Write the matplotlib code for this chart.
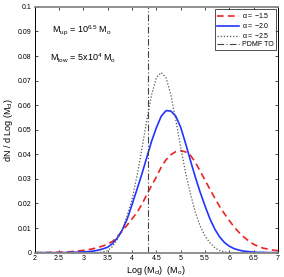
import matplotlib
matplotlib.use('Agg')
import matplotlib.pyplot as plt

plt.rcParams['font.family'] = ['Liberation Sans', 'DejaVu Sans']
plt.rcParams['mathtext.fontset'] = 'custom'
plt.rcParams['mathtext.rm'] = 'Liberation Sans'
plt.rcParams['mathtext.it'] = 'Liberation Sans'

# log cluster mass grid
log_m = [2.0, 2.1, 2.2, 2.3, 2.4, 2.5, 2.6, 2.7, 2.8, 2.9,
         3.0, 3.1, 3.2, 3.3, 3.4, 3.5, 3.6, 3.7, 3.8, 3.9,
         4.0, 4.1, 4.2, 4.3, 4.4, 4.5, 4.6, 4.7, 4.8, 4.9,
         5.0, 5.1, 5.2, 5.3, 5.4, 5.5, 5.6, 5.7, 5.8, 5.9,
         6.0, 6.1, 6.2, 6.3, 6.4, 6.5, 6.6, 6.7, 6.8, 6.9, 7.0]

# alpha = -1.5
dn_15 = [0.0000, 0.0000, 0.0000, 0.0001, 0.0001, 0.0002, 0.0002, 0.0003, 0.0005, 0.0007,
         0.0009, 0.0012, 0.0016, 0.0021, 0.0027, 0.0034, 0.0046, 0.0064, 0.0088, 0.0112,
         0.0137, 0.0163, 0.0195, 0.0235, 0.0272, 0.0308, 0.0348, 0.0378, 0.0399, 0.0411,
         0.0415, 0.0410, 0.0396, 0.0368, 0.0332, 0.0295, 0.0258, 0.0222, 0.0188, 0.0158,
         0.0130, 0.0104, 0.0082, 0.0063, 0.0047, 0.0034, 0.0025, 0.0018, 0.0014, 0.0010, 0.0008]

# alpha = -2.0
dn_20 = [0.0000, 0.0000, 0.0000, 0.0000, 0.0000, 0.0000, 0.0000, 0.0001, 0.0001, 0.0002,
         0.0003, 0.0004, 0.0006, 0.0010, 0.0015, 0.0022, 0.0037, 0.0060, 0.0092, 0.0136,
         0.0195, 0.0256, 0.0318, 0.0385, 0.0452, 0.0508, 0.0555, 0.0578, 0.0576, 0.0555,
         0.0510, 0.0445, 0.0375, 0.0308, 0.0246, 0.0190, 0.0138, 0.0096, 0.0064, 0.0041,
         0.0026, 0.0016, 0.0010, 0.0006, 0.0004, 0.0002, 0.0001, 0.0001, 0.0000, 0.0000, 0.0000]

# alpha = -2.5
dn_25 = [0.0000, 0.0000, 0.0000, 0.0000, 0.0000, 0.0000, 0.0000, 0.0000, 0.0000, 0.0000,
         0.0000, 0.0000, 0.0000, 0.0001, 0.0003, 0.0008, 0.0025, 0.0055, 0.0095, 0.0150,
         0.0215, 0.0310, 0.0418, 0.0535, 0.0640, 0.0712, 0.0733, 0.0712, 0.0640, 0.0540,
         0.0430, 0.0325, 0.0240, 0.0165, 0.0108, 0.0068, 0.0040, 0.0020, 0.0008, 0.0003,
         0.0001, 0.0000, 0.0000, 0.0000, 0.0000, 0.0000, 0.0000, 0.0000, 0.0000, 0.0000, 0.0000]

pdmf_to = 4.32

xticks = [2, 2.5, 3, 3.5, 4, 4.5, 5, 5.5, 6, 6.5, 7]
xticklabels = ['2', '2.5', '3', '3.5', '4', '4.5', '5', '5.5', '6', '6.5', '7']
yticks = [0, 0.01, 0.02, 0.03, 0.04, 0.05, 0.06, 0.07, 0.08, 0.09, 0.1]
yticklabels = ['0', '0.01', '0.02', '0.03', '0.04', '0.05', '0.06', '0.07', '0.08', '0.09', '0.1']

fig = plt.figure(figsize=(2.84, 2.77), dpi=100)
ax = fig.add_axes([0.122, 0.088, 0.857, 0.887])

ax.plot(log_m, dn_15, color='#ee2222', ls=(0, (4, 2.5)), lw=1.2, label=r'$\alpha$ = $-$1.5')
ax.plot(log_m, dn_20, color='#2233ff', ls='-', lw=1.2, label=r'$\alpha$ = $-$2.0')
ax.plot(log_m, dn_25, color='#555555', ls=(0, (1, 1.5)), lw=0.9, label=r'$\alpha$ = $-$2.5')
ax.axvline(pdmf_to, color='#444444', ls=(0, (6, 2, 1, 2)), lw=0.8, label='PDMF TO')

ax.set_xlim(2, 7)
ax.set_ylim(0, 0.1)
ax.set_xticks(xticks)
ax.set_xticklabels(xticklabels)
ax.set_yticks(yticks)
ax.set_yticklabels(yticklabels)
ax.tick_params(direction='in', length=2.5, width=0.5, labelsize=5, top=True, right=True, pad=2)

for side in ['left', 'right']:
    ax.spines[side].set_color('black')
    ax.spines[side].set_linewidth(0.7)
for side in ['top', 'bottom']:
    ax.spines[side].set_color('#888888')
    ax.spines[side].set_linewidth(1.3)

ax.set_xlabel(r'Log (M$_{cl}$)  (M$_o$)', fontsize=6.5, labelpad=1)
ax.set_ylabel(r'dN / d Log (M$_{cl}$)', fontsize=6.5, labelpad=2)

ax.text(2.36, 0.0906, r'M$_{up}$ = 10$^{6.5}$ M$_o$', fontsize=6.5, va='center')
ax.text(2.32, 0.0792, r'M$_{low}$ = 5x10$^4$ M$_o$', fontsize=6.5, va='center')

leg = ax.legend(loc='upper right', fontsize=5, frameon=True, fancybox=False,
                edgecolor='black', borderpad=0.3, labelspacing=0.15,
                handlelength=3.2, handletextpad=0.4, borderaxespad=0.3)
leg.get_frame().set_linewidth(0.6)

fig.savefig('out.png', dpi=100)
